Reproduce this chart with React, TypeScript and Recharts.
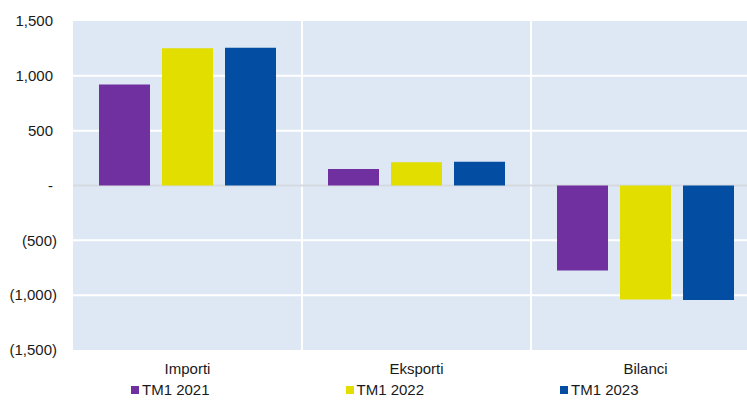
import { BarChart, Bar, XAxis, YAxis, CartesianGrid } from "recharts";

const categories = ["Importi", "Eksporti", "Bilanci"];
const tm2021 = [920, 150, -775];
const tm2022 = [1252, 213, -1040];
const tm2023 = [1256, 217, -1045];

const yMin = -1500;
const yMax = 1500;
const yTicks = [-1500, -1000, -500, 0, 500, 1000, 1500];
const gridValues = [-1000, -500, 500, 1000];

const series = [
  { key: "tm2021", name: "TM1 2021", color: "#7030A0" },
  { key: "tm2022", name: "TM1 2022", color: "#E1DE00" },
  { key: "tm2023", name: "TM1 2023", color: "#034EA2" },
];

const data = categories.map((name, i) => ({
  name,
  tm2021: tm2021[i],
  tm2022: tm2022[i],
  tm2023: tm2023[i],
}));

const FONT = "'Liberation Sans', Arial, sans-serif";
const BG = "#DDE8F4";

// pixel position of a value inside the plot area
const valueToY = (offset: any, v: number) =>
  offset.top + ((yMax - v) / (yMax - yMin)) * offset.height;

function formatTick(v: number) {
  if (v === 0) return "-";
  const s = Math.abs(v).toLocaleString("en-US");
  return v < 0 ? `(${s})` : s;
}

function YTick(props: any) {
  const { x, y, payload } = props;
  const v = payload.value as number;
  return (
    <text
      x={v < 0 ? x : x - 4}
      y={y}
      dy="0.355em"
      textAnchor="end"
      fontSize={15}
      fontFamily={FONT}
      fill="#1a1a1a"
    >
      {formatTick(v)}
    </text>
  );
}

export default function App() {
  return (
    <div
      style={{
        position: "absolute",
        left: 0,
        top: 0,
        width: 747,
        height: 400,
        overflow: "hidden",
        background: "#fff",
        fontFamily: FONT,
      }}
    >
      <BarChart
        width={762}
        height={400}
        data={data}
        margin={{ top: 21, right: 2, left: 0, bottom: 20 }}
        barSize={51}
        barGap={12}
      >
        <CartesianGrid
          fill={BG}
          stroke="#ffffff"
          strokeWidth={2}
          horizontalCoordinatesGenerator={({ offset }: any) =>
            gridValues.map((v) => valueToY(offset, v))
          }
          verticalCoordinatesGenerator={({ offset }: any) =>
            categories.map((_, i) => offset.left + ((i + 1) * offset.width) / categories.length)
          }
        />
        {/* zero baseline */}
        <CartesianGrid
          vertical={false}
          stroke="#D6DAE0"
          strokeWidth={2}
          horizontalCoordinatesGenerator={({ offset }: any) => [valueToY(offset, 0)]}
        />
        <XAxis
          dataKey="name"
          axisLine={false}
          tickLine={false}
          tickSize={0}
          tickMargin={13}
          height={30}
          tick={{ fontSize: 15, fontFamily: FONT, fill: "#1a1a1a" }}
        />
        <YAxis
          width={73}
          domain={[yMin, yMax]}
          ticks={yTicks}
          interval={0}
          axisLine={false}
          tickLine={false}
          tickSize={0}
          tickMargin={16}
          tick={<YTick />}
        />
        {series.map((s) => (
          <Bar key={s.key} dataKey={s.key} name={s.name} fill={s.color} isAnimationActive={false} />
        ))}
      </BarChart>
      <div style={{ position: "absolute", top: 381, left: 0, width: 747, height: 19 }}>
        {series.map((s, i) => (
          <div
            key={s.key}
            style={{
              position: "absolute",
              left: 131 + i * 214.5,
              top: 0,
              display: "flex",
              alignItems: "center",
              fontSize: 15,
              color: "#1a1a1a",
              whiteSpace: "nowrap",
            }}
          >
            <span style={{ width: 8, height: 8, background: s.color, marginRight: 3, display: "inline-block" }} />
            {s.name}
          </div>
        ))}
      </div>
    </div>
  );
}
